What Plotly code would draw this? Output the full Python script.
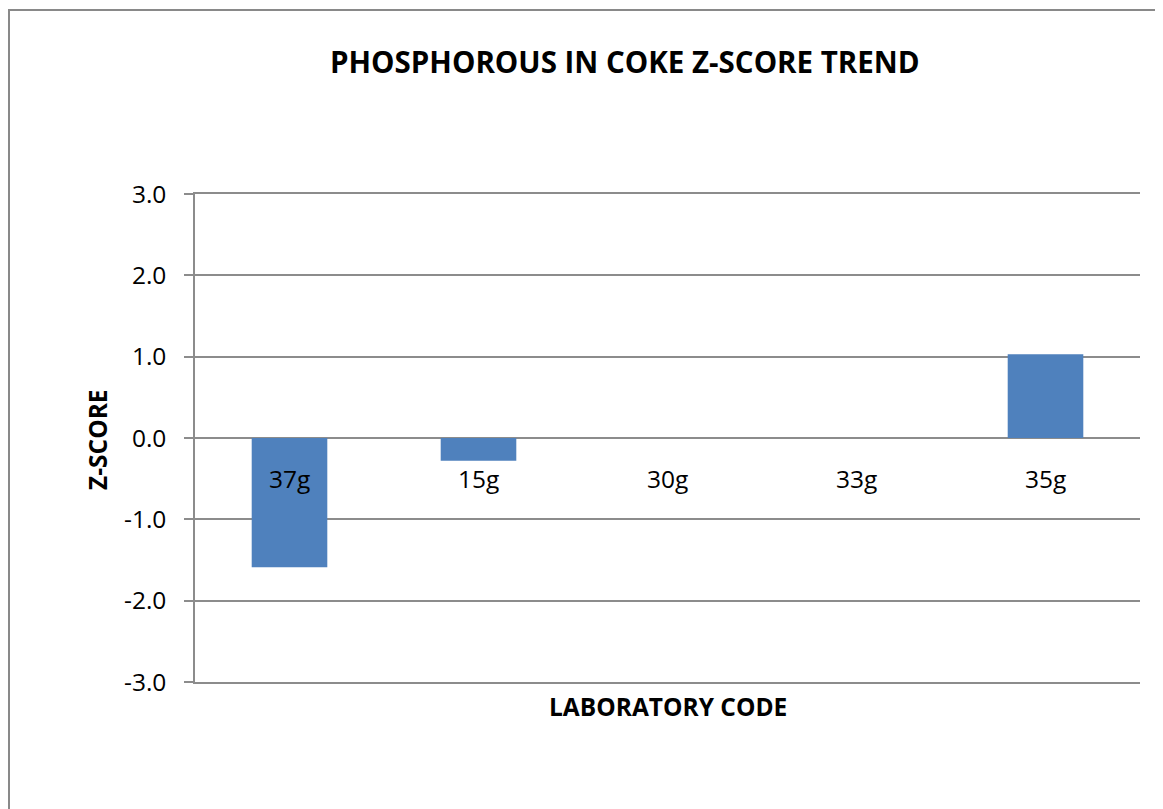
import plotly.graph_objects as go

categories = ["37g", "15g", "30g", "33g", "35g"]
z_scores = [-1.59, -0.28, 0.0, 0.0, 1.03]
y_ticks = [-3, -2, -1, 0, 1, 2, 3]
y_tick_labels = ["-3.0", "-2.0", "-1.0", "0.0", "1.0", "2.0", "3.0"]

FONT = "'Open Sans', sans-serif"
OFF = 8  # page body margin
W, H = 1163 - OFF, 809 - OFF
L, R, T, B = 195 - OFF, 23, 194 - OFF, 127
pw, ph = W - L - R, H - T - B

def px_x(x):
    return (x - OFF - L) / pw

def px_y(y):
    return (H + OFF - B - y) / ph

fig = go.Figure(go.Bar(x=categories, y=z_scores, marker=dict(color="#4F81BD", line=dict(width=0)),
                       hoverinfo="skip"))

fig.update_layout(
    width=W, height=H, margin=dict(l=L, r=R, t=T, b=B),
    paper_bgcolor="white", plot_bgcolor="white", showlegend=False,
    bargap=0.6, font=dict(family=FONT, color="black"),
    xaxis=dict(showticklabels=False, showgrid=False, zeroline=False, showline=True, mirror=True,
               linecolor="#8C8C8C", linewidth=1.5, ticks=""),
    yaxis=dict(range=[-3, 3], tickvals=y_ticks, ticktext=y_tick_labels,
               tickfont=dict(size=24.5, family=FONT), showgrid=True, gridcolor="#8C8C8C", gridwidth=1.5,
               zeroline=False, showline=True, linecolor="#8C8C8C", linewidth=1.5,
               ticks="outside", ticklen=9, tickcolor="#8C8C8C", tickwidth=1.5, ticklabelstandoff=13),
)

ann = []
for c in categories:
    ann.append(dict(x=c, y=0, xref="x", yref="y", text=c, showarrow=False, yanchor="top",
                    yshift=-22, font=dict(size=24.5, family=FONT)))
ann.append(dict(x=px_x(625), y=px_y(61), xref="paper", yref="paper",
                text="<b>PHOSPHOROUS IN COKE Z-SCORE TREND</b>", showarrow=False,
                xanchor="center", yanchor="middle", font=dict(size=29.5, family=FONT)))
ann.append(dict(x=0.5, y=px_y(706), xref="paper", yref="paper",
                text="<b>LABORATORY CODE</b>", showarrow=False,
                xanchor="center", yanchor="middle", font=dict(size=24.5, family=FONT)))
ann.append(dict(x=px_x(97), y=px_y(440), xref="paper", yref="paper",
                text="<b>Z-SCORE</b>", showarrow=False, textangle=-90,
                xanchor="center", yanchor="middle", font=dict(size=24.5, family=FONT)))
fig.update_layout(annotations=ann)

fig.add_shape(type="rect", xref="paper", yref="paper",
              x0=px_x(9), x1=1.3, y0=-0.6, y1=px_y(10),
              line=dict(color="#898989", width=2), fillcolor="rgba(0,0,0,0)", layer="below")

fig.write_html("out.html")
